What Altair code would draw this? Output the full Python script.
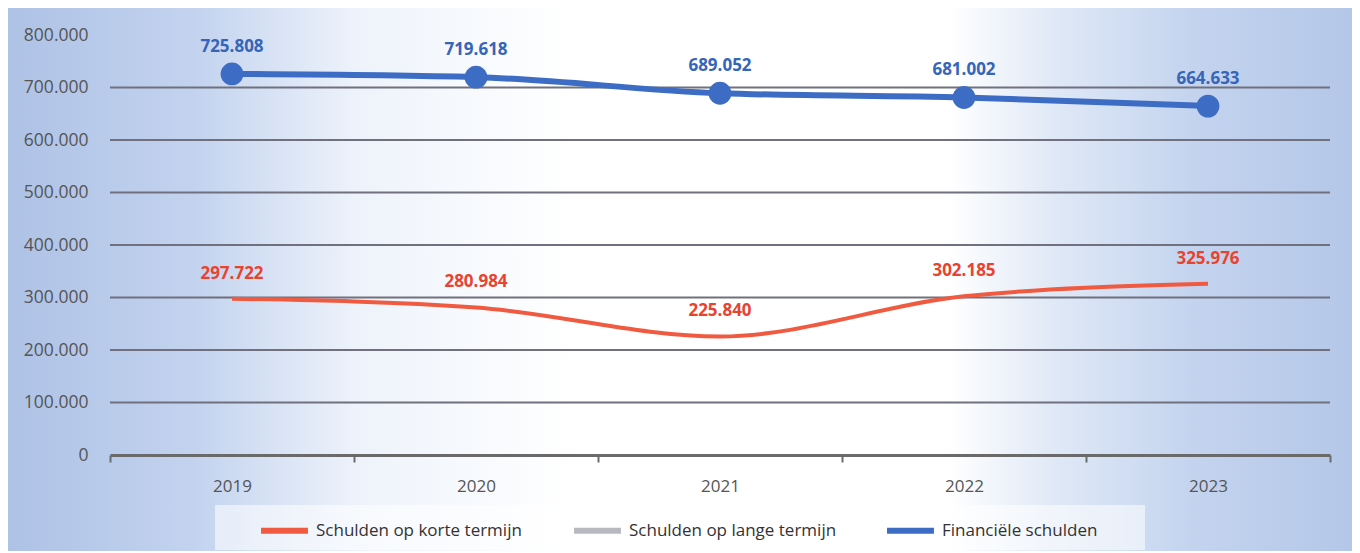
import altair as alt
import pandas as pd

years = ["2019", "2020", "2021", "2022", "2023"]
korte = [297722, 280984, 225840, 302185, 325976]
financiele = [725808, 719618, 689052, 681002, 664633]
series_names = ["Schulden op korte termijn", "Schulden op lange termijn", "Financiële schulden"]
series_colors = ["#f05a40", "#b8b8c0", "#3d6cc4"]
y_ticks = [0, 100000, 200000, 300000, 400000, 500000, 600000, 700000, 800000]
grid_vals = [100000, 200000, 300000, 400000, 500000, 600000, 700000]

FONT = "Open Sans, sans-serif"
W, H = 1220, 420
PAD = {"left": 102, "top": 27, "right": 22, "bottom": 96}

rows = []
for y, v in zip(years, korte):
    rows.append({"year": y, "value": v, "series": series_names[0]})
for y, v in zip(years, financiele):
    rows.append({"year": y, "value": v, "series": series_names[2]})
df = pd.DataFrame(rows)
df_k = df[df.series == series_names[0]]
df_f = df[df.series == series_names[2]]

fmt = "replace(format(datum.value, ',d'), ',', '.')"

xenc = alt.X("year:N", bandPosition=0.5,
             scale=alt.Scale(type="band", paddingInner=0, paddingOuter=0),
             axis=alt.Axis(title=None, labelAngle=0, tickBand="extent", domainColor="#6a6a6a",
                           domainWidth=3, tickColor="#6a6a6a", tickWidth=2, tickSize=7,
                           labelFontSize=17, labelColor="#555555", labelPadding=16,
                           labelFont=FONT, grid=False, zindex=2))
yscale = alt.Scale(domain=[0, 800000])
yenc = alt.Y("value:Q", scale=yscale,
             axis=alt.Axis(title=None, values=y_ticks, labelExpr=fmt, grid=False, domain=False,
                           ticks=False, labelFontSize=17.5, labelColor="#555555", labelPadding=22,
                           labelFont=FONT, zindex=2))

one = pd.DataFrame({"a": [0]})
bg = alt.Chart(one).mark_rect(
    color=alt.Gradient(gradient="linear", x1=0, x2=1, y1=0, y2=0, stops=[
        alt.GradientStop(color="#aec2e6", offset=0),
        alt.GradientStop(color="#c3d3ef", offset=0.14),
        alt.GradientStop(color="#eef3fb", offset=0.26),
        alt.GradientStop(color="#ffffff", offset=0.42),
        alt.GradientStop(color="#ffffff", offset=0.70),
        alt.GradientStop(color="#dfe8f6", offset=0.78),
        alt.GradientStop(color="#c4d4ef", offset=0.88),
        alt.GradientStop(color="#b4c7e8", offset=1.0),
    ])
).encode(x=alt.value(-PAD["left"]), x2=alt.value(W + PAD["right"]),
         y=alt.value(-PAD["top"]), y2=alt.value(H + PAD["bottom"]))

legbox = alt.Chart(one).mark_rect(color="#ffffff", opacity=0.55).encode(
    x=alt.value(105), x2=alt.value(1035), y=alt.value(470), y2=alt.value(515))

grid = alt.Chart(pd.DataFrame({"value": grid_vals})).mark_rule(color="#70707e", strokeWidth=2).encode(
    x=alt.value(0), x2=alt.value(W), y=alt.Y("value:Q", scale=yscale))

color = alt.Color("series:N", scale=alt.Scale(domain=series_names, range=series_colors),
                  legend=alt.Legend(title=None, orient="none", legendX=148, legendY=469,
                                    direction="horizontal", columns=3, gridAlign="all",
                                    symbolType="stroke", symbolSize=2200, symbolStrokeWidth=6,
                                    labelFontSize=17, labelColor="#333333", labelFont=FONT,
                                    labelLimit=400, columnPadding=38, labelOffset=5,
                                    zindex=2))

line_k = alt.Chart(df_k).mark_line(strokeWidth=4, interpolate="monotone").encode(
    x=xenc, y=yenc, color=color)
line_f = alt.Chart(df_f).mark_line(strokeWidth=6, interpolate="monotone").encode(
    x=xenc, y=yenc, color=color)
pts = alt.Chart(df_f).mark_point(filled=True, size=520, opacity=1, color="#3d6cc4").encode(
    x=xenc, y=yenc)

txt_k = alt.Chart(df_k).mark_text(dy=-25, fontSize=17, fontWeight="bold", color="#e8432f",
                                  font=FONT).encode(
    x=xenc, y=yenc, text=alt.Text("lbl:N")).transform_calculate(lbl=fmt)
txt_f = alt.Chart(df_f).mark_text(dy=-27, fontSize=17, fontWeight="bold", color="#3565b8",
                                  font=FONT).encode(
    x=xenc, y=yenc, text=alt.Text("lbl:N")).transform_calculate(lbl=fmt)

chart = alt.layer(bg, legbox, grid, line_k, line_f, pts, txt_k, txt_f).properties(
    width=W, height=H, padding=PAD, autosize=alt.AutoSizeParams(type="none"),
    background="#ffffff"
).configure_view(stroke=None)

chart.save("out.html", embed_options={"renderer": "svg", "actions": False})
